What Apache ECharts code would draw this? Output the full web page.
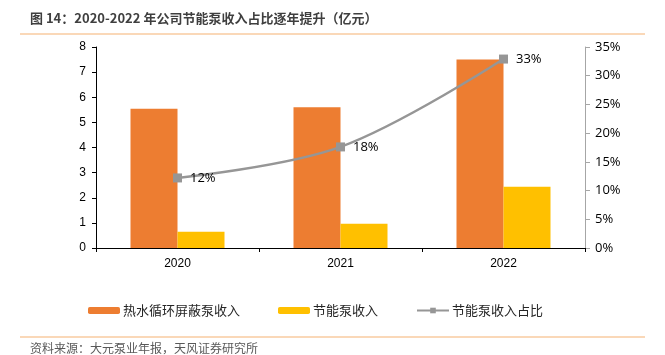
<!DOCTYPE html>
<html><head><meta charset="utf-8">
<script src="https://cdn.jsdelivr.net/npm/echarts@6/dist/echarts.min.js"></script>
<style>html,body{margin:0;padding:0;background:#fff}#c{width:665px;height:355px}</style>
</head><body><div id="c"></div>
<script>
const categories = ['2020', '2021', '2022'];
const circPump = [5.54, 5.6, 7.5];
const savingPump = [0.65, 0.97, 2.44];
const savingShare = [12.2, 17.6, 32.9];
const leftTicks = [0, 8, 1];
const rightTicks = [0, 35, 5];
const titleText = '图 14：2020-2022 年公司节能泵收入占比逐年提升（亿元）';
const sourceText = '资料来源：大元泵业年报，天风证券研究所';

const cjk = '"Noto Sans CJK SC", "Noto Sans", sans-serif';
const chart = echarts.init(document.getElementById('c'));
chart.setOption({
  animation: false,
  backgroundColor: '#fff',
  graphic: [
    {type: 'text', left: 30, top: 12, style: {text: titleText, font: 'bold 13px ' + cjk, fill: '#3f3f3f'}},
    {type: 'line', shape: {x1: 20, y1: 34, x2: 645, y2: 34}, style: {stroke: '#f8cba0', lineWidth: 1.5}},
    {type: 'line', shape: {x1: 20, y1: 337, x2: 645, y2: 337}, style: {stroke: '#f8cba0', lineWidth: 1.5}},
    {type: 'text', left: 30, top: 342, style: {text: sourceText, font: '12px ' + cjk, fill: '#595959'}}
  ],
  legend: {
    left: 83, top: 299, itemWidth: 32, itemHeight: 7, itemGap: 38,
    textStyle: {fontFamily: cjk, fontSize: 13, color: '#262626', padding: [0, 0, 0, -2]},
    data: ['热水循环屏蔽泵收入', '节能泵收入', '节能泵收入占比']
  },
  grid: {left: 96, right: 80, top: 47, bottom: 107},
  xAxis: {
    type: 'category', data: categories,
    axisLine: {lineStyle: {color: '#000', width: 1}},
    axisTick: {show: true, length: 4, lineStyle: {color: '#000'}},
    axisLabel: {color: '#000', fontSize: 12, fontFamily: 'Liberation Sans, Arial', margin: 10}
  },
  yAxis: [
    {
      type: 'value', min: leftTicks[0], max: leftTicks[1], interval: leftTicks[2],
      axisLine: {show: true, lineStyle: {color: '#000'}},
      axisTick: {show: true, length: 4, lineStyle: {color: '#000'}},
      splitLine: {show: false},
      axisLabel: {color: '#000', fontSize: 12, fontFamily: 'Liberation Sans, Arial', margin: 10}
    },
    {
      type: 'value', min: rightTicks[0], max: rightTicks[1], interval: rightTicks[2],
      position: 'right',
      axisLine: {show: true, lineStyle: {color: '#a6a6a6'}},
      axisTick: {show: true, length: 5, lineStyle: {color: '#a6a6a6'}},
      splitLine: {show: false},
      axisLabel: {color: '#000', fontSize: 13, fontFamily: '"Open Sans", "Noto Sans", sans-serif', margin: 10, formatter: '{value}%'}
    }
  ],
  series: [
    {name: '热水循环屏蔽泵收入', type: 'bar', data: circPump, barWidth: 47, barGap: '0%',
      itemStyle: {color: '#ed7d31'}},
    {name: '节能泵收入', type: 'bar', data: savingPump, barWidth: 47,
      itemStyle: {color: '#ffc000'}},
    {name: '节能泵收入占比', type: 'line', yAxisIndex: 1, data: savingShare, smooth: 0.35,
      symbol: 'rect', symbolSize: 9,
      lineStyle: {color: '#969696', width: 2.5}, itemStyle: {color: '#969696'},
      label: {show: true, position: 'right', distance: 8, color: '#000', fontSize: 13,
        fontFamily: '"Open Sans", "Noto Sans", sans-serif',
        formatter: p => Math.round(p.value) + '%'}}
  ]
});
</script></body></html>
